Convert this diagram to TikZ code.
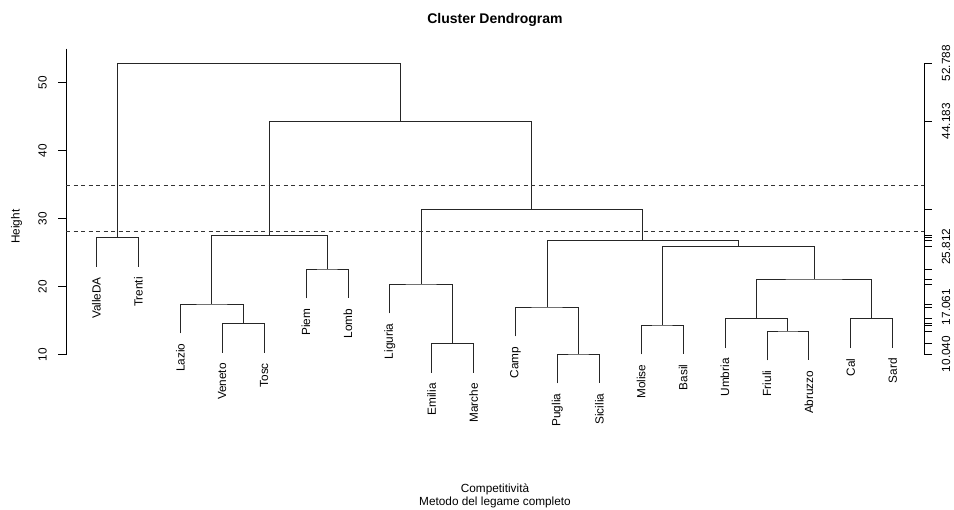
\documentclass[tikz,border=0pt]{standalone}
\usepackage{fontspec}
\setmainfont{Liberation Sans}
\usepackage{tikz}
\usetikzlibrary{positioning}
\tikzstyle{regione} = [rotate = 90, anchor = east, inner xsep = 10pt, inner ysep = 0pt, font = \fontsize{11.8}{13}\selectfont]
\tikzstyle{ramo} = [line width = 0.8pt, draw = black!85]
\tikzstyle{taglio} = [line width = 0.8pt, draw = black!80, dash pattern = on 4pt off 3.5pt]
\tikzstyle{asse} = [line width = 0.8pt, draw = black]
\tikzstyle{etichetta} = [rotate = 90, inner sep = 0pt, font = \fontsize{11.8}{13}\selectfont]

\begin{document}
\begin{tikzpicture}[x = 1pt, y = -1pt]
\useasboundingbox (0,0) rectangle (954,510) ;

% titolo e assi
\node (titolo) at (495,19.5) [font = \fontsize{14}{16}\selectfont\bfseries] {Cluster Dendrogram} ;
\node (metodo) at (495,496) [align = center, font = \fontsize{11.8}{13.4}\selectfont] {Competitività\\Metodo del legame completo} ;
\node (altezza) at (16.5,226.7) [etichetta] {Height} ;

\draw[asse] (66,48.7) -- (66,354.7) ;
\draw[asse] (58,354.7) -- (66,354.7) (58,286.7) -- (66,286.7) (58,218.7) -- (66,218.7) (58,150.7) -- (66,150.7) (58,82.7) -- (66,82.7) ;
\node (y10) at (42.5,354.7) [etichetta] {10} ;
\node (y20) at (42.5,286.7) [etichetta] {20} ;
\node (y30) at (42.5,218.7) [etichetta] {30} ;
\node (y40) at (42.5,150.7) [etichetta] {40} ;
\node (y50) at (42.5,82.7) [etichetta] {50} ;

% foglie
\node (valleda) at (96.5,267) [regione] {ValleDA} ;
\node (trenti) at (138.4,267) [regione] {Trenti} ;
\node (lazio) at (180.3,333.5) [regione] {Lazio} ;
\node (veneto) at (222.2,353) [regione] {Veneto} ;
\node (tosc) at (264.1,353) [regione] {Tosc} ;
\node (piem) at (306,298.5) [regione] {Piem} ;
\node (lomb) at (347.9,298.5) [regione] {Lomb} ;
\node (liguria) at (389.8,313.5) [regione] {Liguria} ;
\node (emilia) at (431.7,373) [regione] {Emilia} ;
\node (marche) at (473.6,373) [regione] {Marche} ;
\node (camp) at (515.5,336.5) [regione] {Camp} ;
\node (puglia) at (557.4,383.5) [regione] {Puglia} ;
\node (sicilia) at (599.3,383.5) [regione] {Sicilia} ;
\node (molise) at (641.2,354.5) [regione] {Molise} ;
\node (basil) at (683.1,354.5) [regione] {Basil} ;
\node (umbria) at (725,348.2) [regione] {Umbria} ;
\node (friuli) at (766.9,360.5) [regione] {Friuli} ;
\node (abruzzo) at (808.8,360.5) [regione] {Abruzzo} ;
\node (cal) at (850.7,348.2) [regione] {Cal} ;
\node (sard) at (892.6,348.2) [regione] {Sard} ;

% fusioni
\coordinate (n1) at (117.5,237.3) ;
\coordinate (n2) at (243.2,323.3) ;
\coordinate (n3) at (211.7,304) ;
\coordinate (n4) at (327,269) ;
\coordinate (n5) at (269.4,235.7) ;
\coordinate (n6) at (452.6,343.3) ;
\coordinate (n7) at (421.2,284) ;
\coordinate (n8) at (578.3,354) ;
\coordinate (n9) at (546.9,307) ;
\coordinate (n10) at (662.1,325) ;
\coordinate (n11) at (787.8,331) ;
\coordinate (n12) at (756.4,318.7) ;
\coordinate (n13) at (871.6,318.7) ;
\coordinate (n14) at (814,279) ;
\coordinate (n15) at (738,246.7) ;
\coordinate (n16) at (642.5,240.7) ;
\coordinate (n17) at (531.8,209.3) ;
\coordinate (n18) at (400.6,121.3) ;
\coordinate (n19) at (259,63.3) ;

\draw[ramo] (valleda.east) |- (n1) -| (trenti.east) ;
\draw[ramo] (veneto.east) |- (n2) -| (tosc.east) ;
\draw[ramo] (lazio.east) |- (n3) -| (n2) ;
\draw[ramo] (piem.east) |- (n4) -| (lomb.east) ;
\draw[ramo] (n3) |- (n5) -| (n4) ;
\draw[ramo] (emilia.east) |- (n6) -| (marche.east) ;
\draw[ramo] (liguria.east) |- (n7) -| (n6) ;
\draw[ramo] (puglia.east) |- (n8) -| (sicilia.east) ;
\draw[ramo] (camp.east) |- (n9) -| (n8) ;
\draw[ramo] (molise.east) |- (n10) -| (basil.east) ;
\draw[ramo] (friuli.east) |- (n11) -| (abruzzo.east) ;
\draw[ramo] (umbria.east) |- (n12) -| (n11) ;
\draw[ramo] (cal.east) |- (n13) -| (sard.east) ;
\draw[ramo] (n12) |- (n14) -| (n13) ;
\draw[ramo] (n10) |- (n15) -| (n14) ;
\draw[ramo] (n9) |- (n16) -| (n15) ;
\draw[ramo] (n7) |- (n17) -| (n16) ;
\draw[ramo] (n5) |- (n18) -| (n17) ;
\draw[ramo] (n1) |- (n19) -| (n18) ;

% tagli
\draw[taglio] (66,185) -- (924,185) ;
\draw[taglio] (66,231.7) -- (924,231.7) ;

% asse destro delle altezze
\coordinate (destro) at (924,0) ;
\coordinate (numeri) at (946,0) ;
\draw[asse] (destro |- n19) -- (destro |- n8) ;
\draw[asse] (destro |- n19) -- ++(7.5,0) (destro |- n18) -- ++(7.5,0) (destro |- n17) -- ++(7.5,0)
  (destro |- n5) -- ++(7.5,0) (destro |- n1) -- ++(7.5,0) (destro |- n16) -- ++(7.5,0)
  (destro |- n15) -- ++(7.5,0) (destro |- n4) -- ++(7.5,0) (destro |- n14) -- ++(7.5,0)
  (destro |- n7) -- ++(7.5,0) (destro |- n3) -- ++(7.5,0) (destro |- n9) -- ++(7.5,0)
  (destro |- n12) -- ++(7.5,0) (destro |- n2) -- ++(7.5,0) (destro |- n10) -- ++(7.5,0)
  (destro |- n11) -- ++(7.5,0) (destro |- n6) -- ++(7.5,0) (destro |- n8) -- ++(7.5,0) ;
\node (h1) at (numeri |- n19) [etichetta] {52.788} ;
\node (h2) at (numeri |- n18) [etichetta] {44.183} ;
\node (h3) at (numeri |- n15) [etichetta] {25.812} ;
\node (h4) at (numeri |- n9) [etichetta] {17.061} ;
\node (h5) at (numeri |- n8) [etichetta] {10.040} ;
\end{tikzpicture}
\end{document}
